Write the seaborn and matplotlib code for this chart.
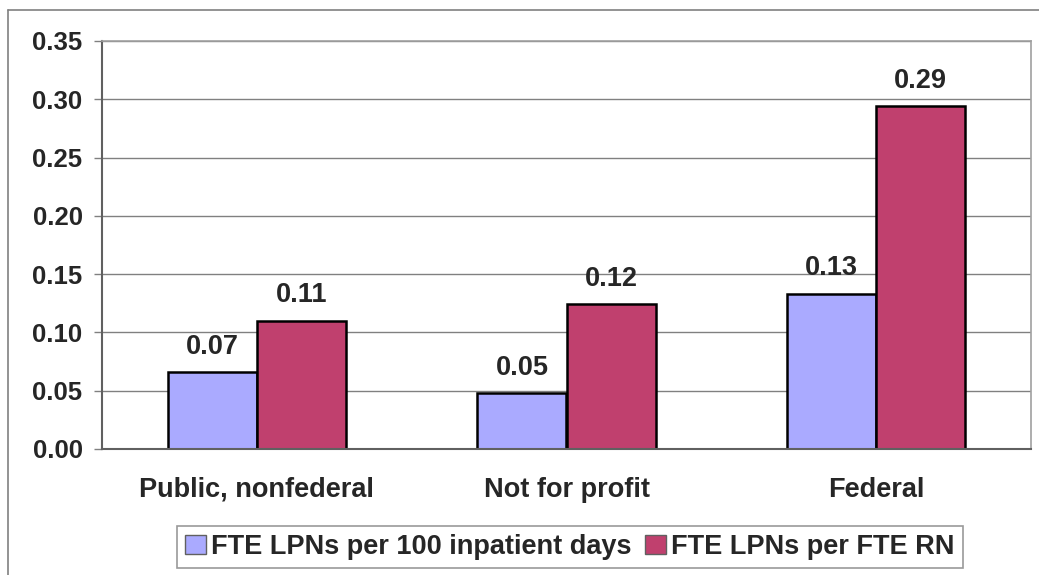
import pandas as pd
import matplotlib.pyplot as plt
import seaborn as sns
from matplotlib.lines import Line2D

# values
sectors = ['Public, nonfederal', 'Not for profit', 'Federal']
series = ['FTE LPNs per 100 inpatient days', 'FTE LPNs per FTE RN']
lpn_per_100_days = [0.066, 0.048, 0.133]
lpn_per_rn = [0.110, 0.124, 0.294]
y_ticks = [0.00, 0.05, 0.10, 0.15, 0.20, 0.25, 0.30, 0.35]
colors = ['#AAAAFF', '#C0406E']

df = pd.DataFrame({
    'sector': sectors * 2,
    'measure': [series[0]] * 3 + [series[1]] * 3,
    'value': lpn_per_100_days + lpn_per_rn,
})

sns.set_style('white')
plt.rcParams['font.family'] = ['Liberation Sans', 'DejaVu Sans']
plt.rcParams['font.weight'] = 'bold'

fig = plt.figure(figsize=(10.39, 5.75), dpi=100)
ax = fig.add_axes([102 / 1039, 1 - 449 / 575, (1031 - 102) / 1039, (449 - 41) / 575])

sns.barplot(data=df, x='sector', y='value', hue='measure', palette=colors,
            edgecolor='black', linewidth=1.8, width=0.575, saturation=1, ax=ax)

for c in ax.containers:
    ax.bar_label(c, fmt='%.2f', padding=9, fontsize=19.5, fontweight='bold')

ax.set_ylim(0, 0.35)
ax.set_xlim(-0.5, 2.5)
ax.set_yticks(y_ticks)
ax.set_yticklabels([f'{t:.2f}' for t in y_ticks], fontsize=18.5, fontweight='bold')
ax.set_xticks(range(3))
ax.set_xticklabels(sectors, fontsize=19.5, fontweight='bold')
ax.set_xticks([-0.5, 0.5, 1.5, 2.5], minor=True)
ax.tick_params(axis='x', which='major', length=0, pad=20)
ax.tick_params(axis='x', which='minor', length=5, color='#808080', width=1)
ax.tick_params(axis='y', length=6, color='#808080', width=1, pad=8, left=True)
ax.set_xlabel('')
ax.set_ylabel('')

ax.yaxis.grid(True, color='#808080', linewidth=1)
ax.set_axisbelow(True)
for side in ['top', 'right']:
    ax.spines[side].set_color('#A0A0A0')
    ax.spines[side].set_linewidth(1.2)
for side in ['left', 'bottom']:
    ax.spines[side].set_color('#606060')
    ax.spines[side].set_linewidth(1.5)

sns.move_legend(ax, loc='center', bbox_to_anchor=(570 / 1039, 1 - 547 / 575),
                bbox_transform=fig.transFigure, ncol=2, title=None, frameon=True,
                fancybox=False, edgecolor='#808080', fontsize=19.5,
                handlelength=0.75, handleheight=0.75, handletextpad=0.2,
                columnspacing=0.5, borderpad=0.3, borderaxespad=0)
leg = ax.get_legend()
leg.get_frame().set_linewidth(1.2)
for t in leg.get_texts():
    t.set_fontweight('bold')
for h in leg.legend_handles:
    h.set_edgecolor('#606060')
    h.set_linewidth(1)

# outer chart frame (only top and left visible)
fig.add_artist(Line2D([8 / 1039, 8 / 1039], [0, 1 - 10 / 575], transform=fig.transFigure,
                      color='#808080', linewidth=1.2))
fig.add_artist(Line2D([8 / 1039, 1], [1 - 10 / 575, 1 - 10 / 575], transform=fig.transFigure,
                      color='#808080', linewidth=1.2))

fig.savefig('out.png', dpi=100)
